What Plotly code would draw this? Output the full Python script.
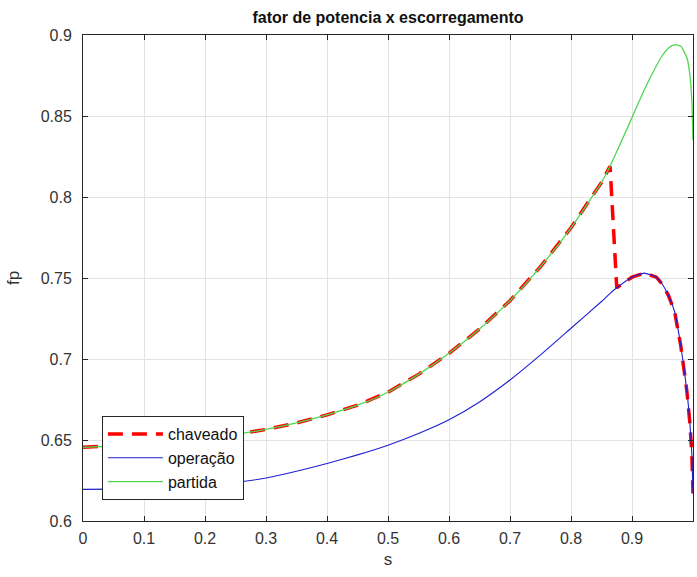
import plotly.graph_objects as go

# ---- data ----
s = [0.0, 0.05, 0.1, 0.15, 0.2, 0.25, 0.3, 0.35, 0.4, 0.45, 0.5, 0.55, 0.6, 0.65,
     0.7, 0.75, 0.8, 0.85, 0.864, 0.875, 0.9, 0.92, 0.94, 0.95, 0.96, 0.97, 0.98,
     0.99, 0.995, 0.998, 1.0]

partida = [0.6455, 0.6463, 0.6475, 0.649, 0.651, 0.6535, 0.6565, 0.6605, 0.6655, 0.6715,
           0.6795, 0.6905, 0.7035, 0.7185, 0.736, 0.757, 0.781, 0.809, 0.819, 0.828,
           0.849, 0.866, 0.881, 0.8875, 0.892, 0.894, 0.893, 0.886, 0.875, 0.860,
           0.835]

operacao = [0.6195, 0.6197, 0.6202, 0.621, 0.622, 0.6238, 0.6265, 0.6307, 0.6355, 0.6408,
            0.6468, 0.654, 0.6625, 0.6735, 0.687, 0.7025, 0.719, 0.7355, 0.7405, 0.744,
            0.7505, 0.753, 0.7505, 0.746, 0.739, 0.729, 0.708, 0.680, 0.660, 0.642,
            0.617]

s_switch_on = 0.864   # last slip on the "partida" curve
s_switch_off = 0.875  # first slip on the "operação" curve

x_ticks = [0, 0.1, 0.2, 0.3, 0.4, 0.5, 0.6, 0.7, 0.8, 0.9, 1]
x_ticktext = ["0", "0.1", "0.2", "0.3", "0.4", "0.5", "0.6", "0.7", "0.8", "0.9", "1"]
y_ticks = [0.6, 0.65, 0.7, 0.75, 0.8, 0.85, 0.9]
y_ticktext = ["0.6", "0.65", "0.7", "0.75", "0.8", "0.85", "0.9"]

# chaveado: follows partida until the switch, then operação
ch_s = [x for x in s if x <= s_switch_on] + [x for x in s if x >= s_switch_off]
ch_v = [v for x, v in zip(s, partida) if x <= s_switch_on] + \
       [v for x, v in zip(s, operacao) if x >= s_switch_off]

FONT = "Liberation Sans, Arial, sans-serif"
TXT = "#333333"

fig = go.Figure()
fig.add_trace(go.Scatter(x=ch_s, y=ch_v, mode="lines", name="chaveado",
                         line=dict(color="#ff0000", width=3.5, dash="15px,9px",
                                   shape="linear")))
fig.add_trace(go.Scatter(x=s, y=operacao, mode="lines", name="operação",
                         line=dict(color="#1f1fd0", width=1.1, shape="spline", smoothing=0.5)))
fig.add_trace(go.Scatter(x=s, y=partida, mode="lines", name="partida",
                         line=dict(color="#4fd64f", width=1.3, shape="spline", smoothing=0.5)))

axis_common = dict(
    showgrid=True, gridcolor="#e3e3e3", gridwidth=1,
    showline=True, linecolor="#262626", linewidth=1, mirror="ticks",
    ticks="inside", ticklen=5, tickcolor="#262626",
    tickfont=dict(family=FONT, size=16, color=TXT),
    zeroline=False,
)

fig.update_layout(
    width=697, height=577,
    margin=dict(l=83, r=4, t=35, b=56),
    paper_bgcolor="white", plot_bgcolor="white",
    title=dict(text="<b>fator de potencia x escorregamento</b>",
               font=dict(family=FONT, size=16, color="#111111"),
               x=0.5, xref="paper", xanchor="center",
               y=1 - 17 / 577, yref="container", yanchor="middle"),
    xaxis=dict(range=[0, 1], tickvals=x_ticks, ticktext=x_ticktext,
               title=dict(text="s", font=dict(family=FONT, size=17, color=TXT),
                          standoff=6),
               ticklabelstandoff=3,
               **axis_common),
    yaxis=dict(range=[0.6, 0.9], tickvals=y_ticks, ticktext=y_ticktext,
               ticklabelstandoff=7,
               **axis_common),
    legend=dict(x=0.031, y=0.043, xanchor="left", yanchor="bottom",
                bgcolor="white", bordercolor="#262626", borderwidth=1,
                font=dict(family=FONT, size=16, color="#111111"),
                tracegroupgap=0, itemwidth=55),
    showlegend=True,
)

fig.add_annotation(text="fp", xref="paper", yref="paper", x=0, y=0.5,
                   xanchor="center", yanchor="middle", xshift=-70, textangle=-90,
                   showarrow=False, font=dict(family=FONT, size=17, color=TXT))

fig.write_html("out.html")
